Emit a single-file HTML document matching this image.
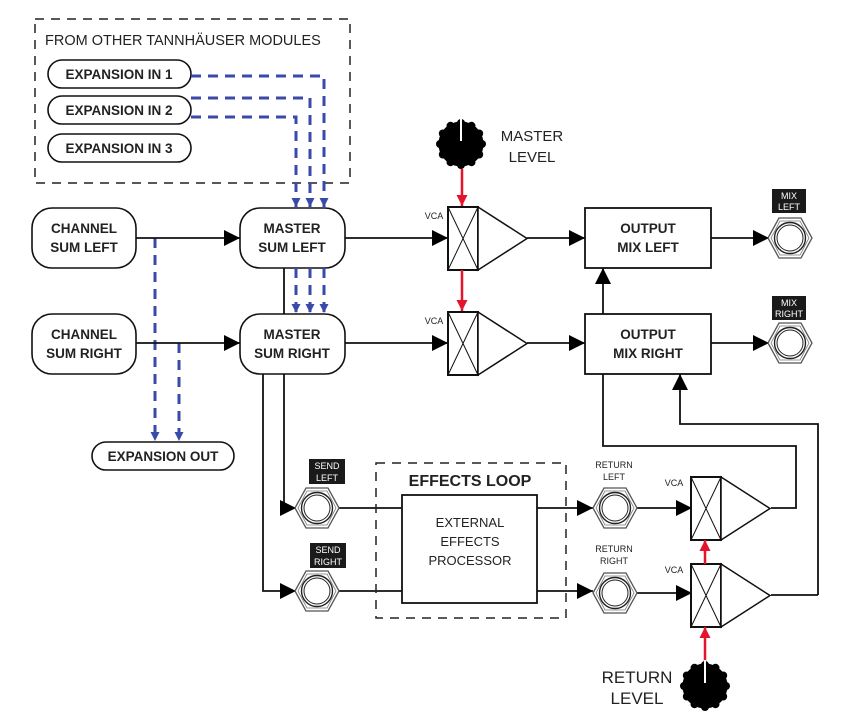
<!DOCTYPE html>
<html><head><meta charset="utf-8"><style>
html,body{margin:0;padding:0;background:#fff}
svg{display:block}
text{font-family:"Liberation Sans",sans-serif;fill:#222}
.b{font-weight:bold}
</style></head><body>
<svg width="851" height="716" viewBox="0 0 851 716" xmlns="http://www.w3.org/2000/svg">
<defs>
<marker id="ak" viewBox="0 0 10 10" markerWidth="16" markerHeight="16" refX="10" refY="5" orient="auto" markerUnits="userSpaceOnUse"><path d="M0,0 L10,5 L0,10z" fill="#000"/></marker>
<marker id="au" viewBox="0 0 10 10" markerWidth="9" markerHeight="9" refX="10" refY="5" orient="auto" markerUnits="userSpaceOnUse"><path d="M0,0 L10,5 L0,10z" fill="#3a4aa8"/></marker>
<marker id="ar" viewBox="0 0 10 10" markerWidth="11" markerHeight="11" refX="10" refY="5" orient="auto" markerUnits="userSpaceOnUse"><path d="M0,0 L10,5 L0,10z" fill="#e3142c"/></marker>
<g id="jack"><polygon points="-22,0 -11,-20 11,-20 22,0 11,20 -11,20" fill="#fff" stroke="#555" stroke-width="1.3"/><polygon points="-19,0 -10,-17 10,-17 19,0 10,17 -10,17" fill="none" stroke="#777" stroke-width="0.8"/><circle r="15.5" fill="#fff" stroke="#222" stroke-width="1.4"/><circle r="13" fill="none" stroke="#222" stroke-width="1"/></g>
<g id="vca"><rect x="0" y="0" width="30" height="63" fill="#fff" stroke="#111" stroke-width="2"/><path d="M0,0 L30,63 M30,0 L0,63" stroke="#111" stroke-width="1"/><path d="M30,0 L79,31.5 L30,63z" fill="#fff" stroke="#111" stroke-width="1.5"/></g>
<g id="knob"><circle r="22.5" fill="#000"/><g fill="#000"><circle cx="0" cy="-21" r="4"/><circle cx="10.5" cy="-18.2" r="4"/><circle cx="18.2" cy="-10.5" r="4"/><circle cx="21" cy="0" r="4"/><circle cx="18.2" cy="10.5" r="4"/><circle cx="10.5" cy="18.2" r="4"/><circle cx="0" cy="21" r="4"/><circle cx="-10.5" cy="18.2" r="4"/><circle cx="-18.2" cy="10.5" r="4"/><circle cx="-21" cy="0" r="4"/><circle cx="-18.2" cy="-10.5" r="4"/><circle cx="-10.5" cy="-18.2" r="4"/></g><line x1="0" y1="-26" x2="0" y2="-3" stroke="#fff" stroke-width="2"/></g>
</defs>

<rect x="35" y="19" width="315" height="164" fill="none" stroke="#222" stroke-width="1.5" stroke-dasharray="9,7"/>
<text x="45" y="45" font-size="14.5">FROM OTHER TANNHÄUSER MODULES</text>
<g fill="#fff" stroke="#111" stroke-width="1.6">
<rect x="48" y="60" width="143" height="28" rx="14"/>
<rect x="48" y="96" width="143" height="28" rx="14"/>
<rect x="48" y="134" width="143" height="28" rx="14"/>
<rect x="92" y="442" width="142" height="28" rx="14"/>
<rect x="32" y="208" width="104" height="60" rx="20"/>
<rect x="32" y="314" width="104" height="60" rx="20"/>
<rect x="240" y="208" width="105" height="60" rx="20"/>
<rect x="240" y="314" width="105" height="60" rx="20"/>
</g>
<g class="b" font-size="13.5" text-anchor="middle">
<text x="119" y="79">EXPANSION IN 1</text>
<text x="119" y="115">EXPANSION IN 2</text>
<text x="119" y="153">EXPANSION IN 3</text>
<text x="163" y="461">EXPANSION OUT</text>
<text x="84" y="233">CHANNEL</text><text x="84" y="252">SUM LEFT</text>
<text x="84" y="339">CHANNEL</text><text x="84" y="358">SUM RIGHT</text>
<text x="292" y="233">MASTER</text><text x="292" y="252">SUM LEFT</text>
<text x="292" y="339">MASTER</text><text x="292" y="358">SUM RIGHT</text>
</g>

<g fill="none" stroke="#3a4aa8" stroke-width="3" stroke-dasharray="10,7">
<path d="M191,76 H324 V207" marker-end="url(#au)"/>
<path d="M191,98 H310 V207" marker-end="url(#au)"/>
<path d="M191,117 H296 V207" marker-end="url(#au)"/>
<path d="M296,268 V313" marker-end="url(#au)"/>
<path d="M310,268 V313" marker-end="url(#au)"/>
<path d="M324,268 V313" marker-end="url(#au)"/>
<path d="M155,238 V441" marker-end="url(#au)"/>
<path d="M179,343 V441" marker-end="url(#au)"/>
</g>

<g fill="none" stroke="#111" stroke-width="1.8">
<path d="M136,238 H240" marker-end="url(#ak)"/>
<path d="M136,343 H240" marker-end="url(#ak)"/>
<path d="M284,268 V314"/>
<path d="M345,238 H448" marker-end="url(#ak)"/>
<path d="M345,343 H448" marker-end="url(#ak)"/>
<path d="M527,238 H585" marker-end="url(#ak)"/>
<path d="M527,343 H585" marker-end="url(#ak)"/>
<path d="M711,238 H769" marker-end="url(#ak)"/>
<path d="M711,343 H769" marker-end="url(#ak)"/>
<path d="M603,314 V268" marker-end="url(#ak)"/>
<path d="M603,374 V446 H796 V508 H771"/>
<path d="M818,595 V424 H680 V374" marker-end="url(#ak)"/>
<path d="M818,595 H771"/>
<path d="M284,374 V508 H296" marker-end="url(#ak)"/>
<path d="M263,374 V591 H296" marker-end="url(#ak)"/>
<path d="M338,508 H402"/>
<path d="M338,591 H402"/>
<path d="M537,508 H593" marker-end="url(#ak)"/>
<path d="M537,591 H593" marker-end="url(#ak)"/>
<path d="M636,508 H692" marker-end="url(#ak)"/>
<path d="M636,593 H692" marker-end="url(#ak)"/>
</g>

<rect x="585" y="208" width="126" height="60" fill="#fff" stroke="#111" stroke-width="1.8"/>
<rect x="585" y="314" width="126" height="60" fill="#fff" stroke="#111" stroke-width="1.8"/>
<g class="b" font-size="13.5" text-anchor="middle">
<text x="648" y="233">OUTPUT</text><text x="648" y="252">MIX LEFT</text>
<text x="648" y="339">OUTPUT</text><text x="648" y="358">MIX RIGHT</text>
</g>

<rect x="376" y="463" width="190" height="155" fill="none" stroke="#222" stroke-width="1.5" stroke-dasharray="9,7"/>
<rect x="402" y="495" width="135" height="108" fill="#fff" stroke="#111" stroke-width="1.8"/>
<text x="470" y="486" class="b" font-size="16" text-anchor="middle">EFFECTS LOOP</text>
<g font-size="13" text-anchor="middle"><text x="470" y="527">EXTERNAL</text><text x="470" y="546">EFFECTS</text><text x="470" y="565">PROCESSOR</text></g>

<use href="#vca" x="448" y="207"/>
<use href="#vca" x="448" y="312"/>
<use href="#vca" x="691" y="477"/>
<use href="#vca" x="691" y="564"/>
<g font-size="9" text-anchor="middle"><text x="434" y="219">VCA</text><text x="434" y="324">VCA</text><text x="674" y="486">VCA</text><text x="674" y="573">VCA</text></g>

<g stroke="#e3142c" stroke-width="2.5" fill="none">
<path d="M462,169 V206" marker-end="url(#ar)"/>
<path d="M462,270 V311" marker-end="url(#ar)"/>
<path d="M705,564 V540" marker-end="url(#ar)"/>
<path d="M705,663 V627" marker-end="url(#ar)"/>
</g>
<use href="#knob" x="461" y="144"/>
<use href="#knob" x="705" y="686"/>
<g font-size="15" text-anchor="middle"><text x="532" y="141">MASTER</text><text x="532" y="162">LEVEL</text></g>
<g font-size="17" text-anchor="middle"><text x="637" y="683">RETURN</text><text x="637" y="704">LEVEL</text></g>

<use href="#jack" x="790" y="238"/>
<use href="#jack" x="790" y="343"/>
<use href="#jack" x="317" y="508"/>
<use href="#jack" x="317" y="591"/>
<use href="#jack" x="615" y="508"/>
<use href="#jack" x="615" y="593"/>
<g fill="#1a1a1a"><rect x="772" y="189" width="34" height="24"/><rect x="772" y="296" width="34" height="24"/><rect x="309" y="459" width="36" height="25"/><rect x="310" y="543" width="36" height="25"/></g>
<g font-size="9" text-anchor="middle">
<text x="789" y="199" style="fill:#fff">MIX</text><text x="789" y="210" style="fill:#fff">LEFT</text>
<text x="789" y="306" style="fill:#fff">MIX</text><text x="789" y="317" style="fill:#fff">RIGHT</text>
<text x="327" y="469" style="fill:#fff">SEND</text><text x="327" y="481" style="fill:#fff">LEFT</text>
<text x="328" y="553" style="fill:#fff">SEND</text><text x="328" y="565" style="fill:#fff">RIGHT</text>
</g>
<g font-size="9" text-anchor="middle"><text x="614" y="468">RETURN</text><text x="614" y="480">LEFT</text><text x="614" y="552">RETURN</text><text x="614" y="564">RIGHT</text></g>
</svg>
</body></html>
